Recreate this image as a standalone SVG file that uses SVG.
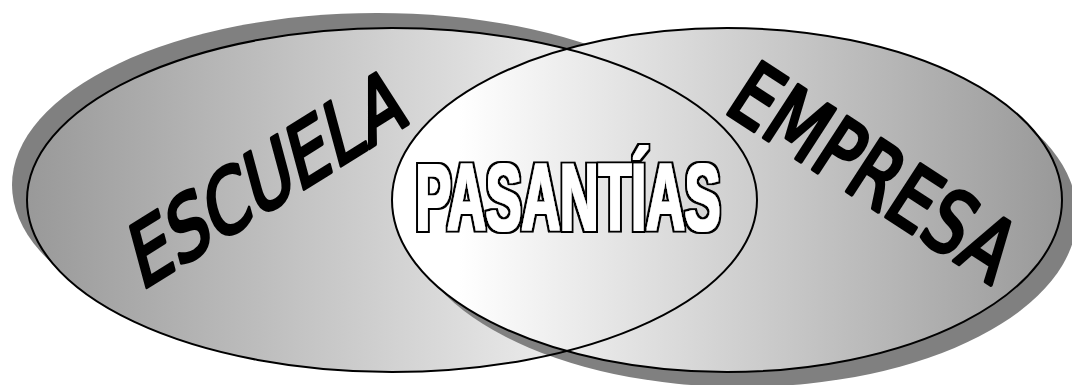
<svg xmlns="http://www.w3.org/2000/svg" width="1072" height="385" viewBox="0 0 1072 385">
<defs>
<linearGradient id="gL" x1="0" y1="0" x2="1" y2="0">
<stop offset="0" stop-color="#999999"/>
<stop offset="0.9" stop-color="#ffffff"/>
</linearGradient>
<linearGradient id="gR" x1="0" y1="0" x2="1" y2="0">
<stop offset="0.1" stop-color="#ffffff"/>
<stop offset="1" stop-color="#999999"/>
</linearGradient>
<filter id="heavy" x="-5%" y="-15%" width="110%" height="130%">
<feMorphology in="SourceAlpha" operator="dilate" radius="1.1" result="inner"/>
<feMorphology in="SourceAlpha" operator="dilate" radius="2.6" result="outer"/>
<feFlood flood-color="#ffffff" result="w"/>
<feComposite in="w" in2="inner" operator="in" result="wi"/>
<feFlood flood-color="#000000" result="b"/>
<feComposite in="b" in2="outer" operator="in" result="bo"/>
<feMerge><feMergeNode in="bo"/><feMergeNode in="wi"/></feMerge>
</filter>
<style>
.shadow{fill:#808080}
.outline{stroke:#000;stroke-width:2}
.hand{font-family:"Comic Sans MS","DejaVu Sans",sans-serif;font-size:86px;fill:#000;stroke:#000;stroke-width:4;stroke-linejoin:round;stroke-linecap:round;text-anchor:middle}
.block{font-family:"Liberation Sans",Arial,sans-serif;font-weight:bold;font-size:94px;fill:#fff;text-anchor:middle}
</style>
</defs>
<g id="escuela-shadow"><ellipse class="shadow" cx="377" cy="185" rx="365" ry="172"/></g>
<g id="escuela-fill"><ellipse cx="392" cy="200" rx="365" ry="172" fill="url(#gL)"/></g>
<g id="empresa">
<ellipse class="shadow" cx="742" cy="215" rx="335" ry="172"/>
<ellipse class="outline" cx="727" cy="200" rx="335" ry="172" fill="url(#gR)"/>
</g>
<g id="escuela">
<ellipse class="outline" cx="392" cy="200" rx="365" ry="172" fill="none"/>
<text class="hand" transform="matrix(0.848 -0.530 0.26 0.966 275 207)" textLength="316" lengthAdjust="spacingAndGlyphs">ESCUELA</text>
</g>
<g id="empresa-label">
<text class="hand" transform="matrix(0.839 0.545 -0.545 0.839 857 198)" textLength="321" lengthAdjust="spacingAndGlyphs">EMPRESA</text>
</g>
<g id="pasantias" filter="url(#heavy)">
<text class="block" x="568" y="230" textLength="305" lengthAdjust="spacingAndGlyphs">PASANTÍAS</text>
</g>
<g id="connectors"></g>
</svg>
